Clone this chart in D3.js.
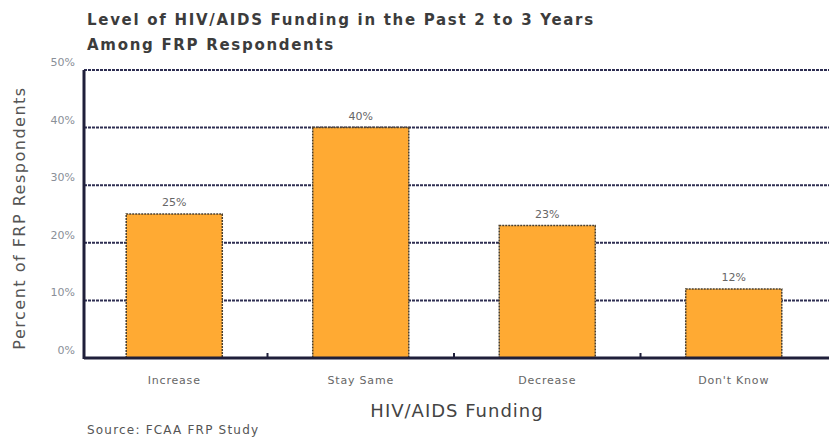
<!DOCTYPE html>
<html>
<head>
<meta charset="utf-8">
<script src="https://cdn.jsdelivr.net/npm/d3@7"></script>
<style>
  body { margin: 0; background: #fff; }
  svg { display: block; font-family: "DejaVu Sans", sans-serif; }
</style>
</head>
<body>
<div id="chart"></div>
<script>
// data
const categories = ["Increase", "Stay Same", "Decrease", "Don't Know"];
const values = [25, 40, 23, 12];
const yTicks = [0, 10, 20, 30, 40, 50];

const width = 829;
const height = 437;
const plotLeft = 84, plotRight = 830, plotTop = 70, plotBottom = 358;

const svg = d3.select("#chart")
  .append("svg")
  .attr("width", width)
  .attr("height", height);

const x = d3.scaleBand()
  .domain(categories)
  .range([plotLeft - 3, plotRight - 3])
  .paddingInner(0.485)
  .paddingOuter(0.2425);

const y = d3.scaleLinear()
  .domain([0, 50])
  .range([plotBottom, plotTop]);

const gridColor = "#2e2e52";

// gridlines
svg.append("g")
  .selectAll("line")
  .data(yTicks.filter(d => d > 0))
  .enter()
  .append("line")
  .attr("x1", plotLeft)
  .attr("x2", plotRight)
  .attr("y1", d => y(d))
  .attr("y2", d => y(d))
  .attr("stroke", gridColor)
  .attr("stroke-width", 2)
  .attr("stroke-dasharray", "3,1");

// y tick labels (sit a bit above their line)
svg.append("g")
  .selectAll("text")
  .data(yTicks)
  .enter()
  .append("text")
  .attr("x", 75)
  .attr("y", d => y(d) - 4)
  .attr("text-anchor", "end")
  .attr("font-size", 11)
  .attr("fill", "#8a8f98")
  .text(d => d + "%");

// bars
svg.append("g")
  .selectAll("rect")
  .data(values)
  .enter()
  .append("rect")
  .attr("x", (d, i) => x(categories[i]))
  .attr("y", d => y(d))
  .attr("width", x.bandwidth())
  .attr("height", d => y(0) - y(d))
  .attr("fill", "#ffaa33")
  .attr("stroke", "#4a4030")
  .attr("stroke-width", 1.5)
  .attr("stroke-dasharray", "2,1");

// value labels
svg.append("g")
  .selectAll("text")
  .data(values)
  .enter()
  .append("text")
  .attr("x", (d, i) => x(categories[i]) + x.bandwidth() / 2)
  .attr("y", d => y(d) - 8)
  .attr("text-anchor", "middle")
  .attr("font-size", 11)
  .attr("fill", "#666")
  .text(d => d + "%");

// axes lines
svg.append("line")
  .attr("x1", plotLeft).attr("x2", plotLeft)
  .attr("y1", plotTop).attr("y2", plotBottom + 1)
  .attr("stroke", "#1f1f3a")
  .attr("stroke-width", 3);

svg.append("line")
  .attr("x1", plotLeft).attr("x2", plotRight)
  .attr("y1", plotBottom).attr("y2", plotBottom)
  .attr("stroke", "#1f1f3a")
  .attr("stroke-width", 3);

// small ticks between categories
svg.append("g")
  .selectAll("line")
  .data(categories.slice(1))
  .enter()
  .append("line")
  .attr("x1", d => x(d) - x.step() * x.paddingInner() / 2)
  .attr("x2", d => x(d) - x.step() * x.paddingInner() / 2)
  .attr("y1", plotBottom - 5)
  .attr("y2", plotBottom)
  .attr("stroke", "#1f1f3a")
  .attr("stroke-width", 2);

// category labels
svg.append("g")
  .selectAll("text")
  .data(categories)
  .enter()
  .append("text")
  .attr("x", d => x(d) + x.bandwidth() / 2)
  .attr("y", 384)
  .attr("text-anchor", "middle")
  .attr("font-size", 11)
  .attr("letter-spacing", 0.8)
  .attr("fill", "#666")
  .text(d => d);

// title
const title = svg.append("text")
  .attr("font-size", 15)
  .attr("font-weight", "bold")
  .attr("letter-spacing", 1.7)
  .attr("fill", "#3c3c3c");
title.append("tspan").attr("x", 87).attr("y", 25).text("Level of HIV/AIDS Funding in the Past 2 to 3 Years");
title.append("tspan").attr("x", 87).attr("y", 50).text("Among FRP Respondents");

// y-axis title
svg.append("text")
  .attr("transform", "translate(25," + ((plotTop + plotBottom) / 2 + 4) + ") rotate(-90)")
  .attr("text-anchor", "middle")
  .attr("font-size", 16)
  .attr("letter-spacing", 1.5)
  .attr("fill", "#555")
  .text("Percent of FRP Respondents");

// x-axis title
svg.append("text")
  .attr("x", 457)
  .attr("y", 417)
  .attr("text-anchor", "middle")
  .attr("font-size", 18)
  .attr("letter-spacing", 1)
  .attr("fill", "#444")
  .text("HIV/AIDS Funding");

// source
svg.append("text")
  .attr("x", 87)
  .attr("y", 434)
  .attr("font-size", 12)
  .attr("letter-spacing", 1.2)
  .attr("fill", "#555")
  .text("Source: FCAA FRP Study");
</script>
</body>
</html>
